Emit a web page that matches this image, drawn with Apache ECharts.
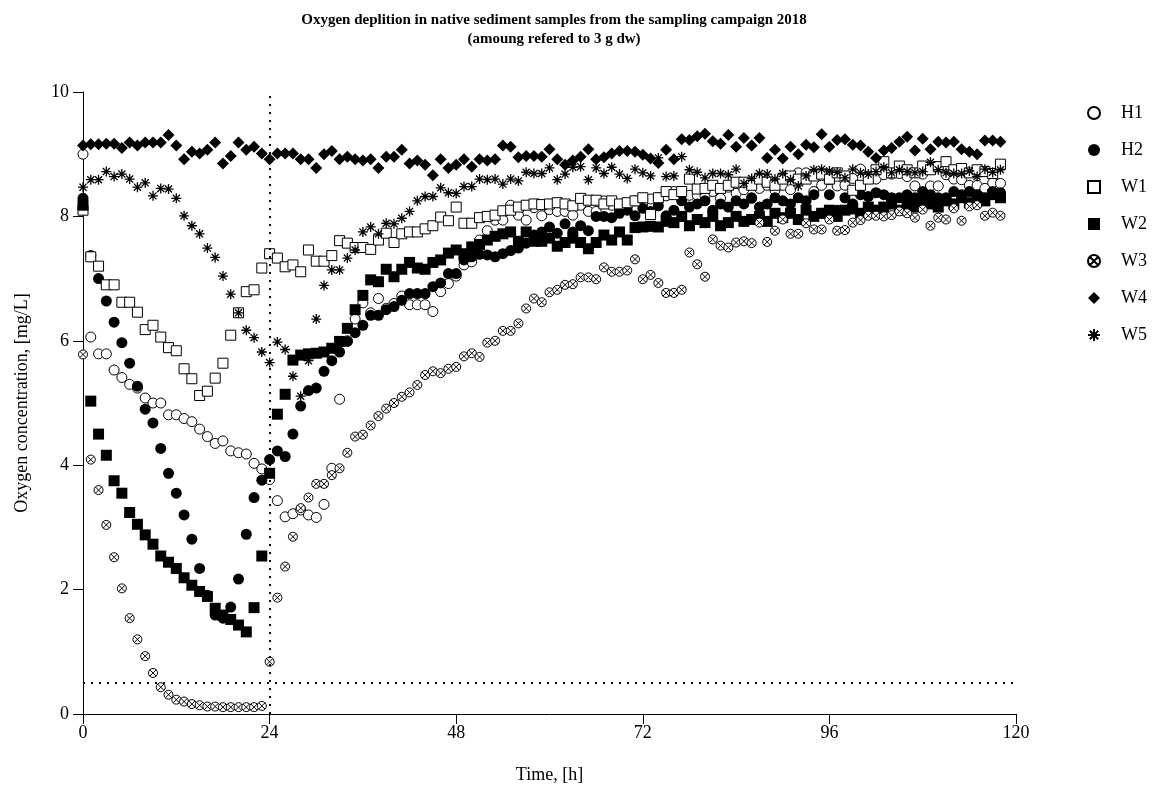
<!DOCTYPE html>
<html><head><meta charset="utf-8">
<script src="https://cdn.jsdelivr.net/npm/echarts@6/dist/echarts.min.js"></script>
<style>html,body{margin:0;padding:0;background:#fff}#c{width:1176px;height:787px}</style>
</head><body><div id="c"></div>
<script>
const hours = [0,1,2,3,4,5,6,7,8,9,10,11,12,13,14,15,16,17,18,19,20,21,22,23,24,25,26,27,28,29,30,31,32,33,34,35,36,37,38,39,40,41,42,43,44,45,46,47,48,49,50,51,52,53,54,55,56,57,58,59,60,61,62,63,64,65,66,67,68,69,70,71,72,73,74,75,76,77,78,79,80,81,82,83,84,85,86,87,88,89,90,91,92,93,94,95,96,97,98,99,100,101,102,103,104,105,106,107,108,109,110,111,112,113,114,115,116,117,118];

const H1 = [9.0,6.06,5.79,5.79,5.53,5.41,5.3,5.24,5.08,5.0,5.0,4.81,4.81,4.75,4.7,4.58,4.46,4.35,4.39,4.23,4.2,4.18,4.03,3.94,3.77,
3.43,3.17,3.22,3.28,3.2,3.16,3.37,3.95,5.06,6.0,6.35,6.61,6.45,6.68,6.52,6.6,6.72,6.58,6.58,6.58,6.47,6.79,6.92,7.04,7.22,7.27,7.62,7.77,7.94,7.94,8.18,8.02,7.94,8.14,8.01,8.11,8.08,8.08,8.02,8.18,8.08,8.08,8.25,8.18,8.08,8.21,8.25,8.21,8.28,8.3,8.33,
8.4,8.38,8.34,8.34,8.33,8.4,8.29,8.47,8.37,8.43,8.29,8.45,8.5,8.42,8.5,8.43,8.7,8.7,8.4,8.5,8.59,8.49,8.5,8.61,8.76,8.64,8.6,8.67,8.68,8.69,8.64,8.49,8.68,8.49,8.49,8.67,8.6,8.59,8.5,8.5,8.45,8.54,8.53];

const H2 = [8.29,7.37,7.0,6.64,6.3,5.97,5.64,5.27,4.9,4.68,4.27,3.87,3.55,3.2,2.81,2.34,1.91,1.59,1.54,1.72,2.17,2.89,3.48,3.76,4.09,
4.23,4.14,4.5,4.95,5.2,5.24,5.51,5.68,5.82,5.99,6.13,6.25,6.41,6.41,6.5,6.55,6.65,6.76,6.76,6.76,6.87,6.93,7.08,7.08,7.3,7.35,7.39,7.38,7.35,7.4,7.45,7.49,7.57,7.7,7.75,7.83,7.73,7.88,7.75,7.85,7.77,8.0,8.0,7.98,8.05,8.1,8.01,8.13,8.08,8.17,8.01,
8.1,8.25,8.15,8.2,8.25,8.1,8.2,8.15,8.25,8.2,8.3,8.15,8.2,8.3,8.25,8.2,8.3,8.25,8.35,8.05,8.35,8.1,8.3,8.2,8.35,8.32,8.38,8.35,8.3,8.3,8.35,8.3,8.4,8.35,8.3,8.3,8.4,8.35,8.4,8.35,8.3,8.4,8.38];

const W1 = [8.1,7.35,7.2,6.9,6.9,6.62,6.62,6.46,6.18,6.25,6.06,5.89,5.84,5.55,5.39,5.12,5.19,5.4,5.64,6.09,6.45,6.79,6.82,7.17,7.4,
7.33,7.19,7.22,7.11,7.46,7.28,7.28,7.37,7.61,7.57,7.5,7.5,7.47,7.62,7.73,7.58,7.72,7.75,7.75,7.8,7.85,7.99,7.93,8.15,7.89,7.89,7.98,8.0,8.02,8.09,8.1,8.15,8.18,8.2,8.19,8.2,8.22,8.2,8.17,8.29,8.26,8.26,8.2,8.25,8.2,8.22,8.25,8.3,8.03,8.3,8.4,
8.35,8.4,8.6,8.44,8.45,8.5,8.45,8.5,8.55,8.55,8.5,8.6,8.55,8.5,8.6,8.65,8.6,8.6,8.65,8.68,8.6,8.7,8.65,8.42,8.5,8.6,8.75,8.88,8.7,8.81,8.75,8.7,8.81,8.75,8.8,8.88,8.75,8.77,8.7,8.75,8.72,8.69,8.84];

const W2 = [8.18,5.03,4.5,4.16,3.75,3.55,3.24,3.05,2.88,2.73,2.54,2.44,2.34,2.19,2.07,1.97,1.89,1.7,1.59,1.52,1.43,1.32,1.71,2.54,3.87,
4.82,5.14,5.69,5.77,5.79,5.8,5.82,5.88,5.99,6.2,6.5,6.73,6.98,6.95,7.15,7.03,7.15,7.26,7.17,7.15,7.26,7.3,7.41,7.46,7.4,7.51,7.55,7.62,7.68,7.72,7.75,7.6,7.75,7.6,7.6,7.65,7.52,7.58,7.65,7.58,7.48,7.58,7.7,7.62,7.75,7.62,7.82,7.83,7.84,7.83,7.92,
7.9,8.0,7.85,7.95,7.9,8.0,7.85,7.9,8.0,7.92,7.95,8.0,7.92,8.05,7.98,8.05,7.95,8.1,8.0,8.05,8.1,8.0,8.1,8.12,8.05,8.15,8.1,8.15,8.2,8.1,8.2,8.15,8.25,8.2,8.15,8.25,8.2,8.3,8.22,8.3,8.25,8.35,8.3];

const W3 = [5.78,4.09,3.6,3.04,2.52,2.02,1.54,1.2,0.93,0.66,0.43,0.31,0.23,0.2,0.16,0.14,0.12,0.12,0.11,0.11,0.11,0.11,0.11,0.13,0.84,
1.87,2.37,2.85,3.31,3.48,3.7,3.7,3.84,3.95,4.2,4.46,4.49,4.64,4.79,4.91,5.0,5.1,5.17,5.29,5.45,5.51,5.48,5.55,5.58,5.75,5.8,5.74,5.97,6.0,6.16,6.16,6.28,6.52,6.68,6.62,6.78,6.82,6.9,6.91,7.02,7.02,6.99,7.18,7.11,7.11,7.13,7.31,6.99,7.06,6.93,6.77,
6.77,6.82,7.42,7.23,7.03,7.63,7.53,7.5,7.58,7.6,7.57,7.9,7.59,7.77,7.95,7.72,7.72,7.89,7.79,7.79,7.95,7.77,7.78,7.9,7.94,8.01,8.01,8.0,8.02,8.08,8.05,7.98,8.11,7.85,7.98,7.95,8.13,7.93,8.16,8.18,8.01,8.06,8.01];

const W4 = [9.14,9.16,9.16,9.17,9.17,9.10,9.19,9.14,9.19,9.19,9.19,9.31,9.14,8.92,9.04,9.01,9.07,9.19,8.85,8.97,9.19,9.07,9.12,9.01,8.92,
9.01,9.01,9.01,8.92,8.92,8.78,9.0,9.05,8.92,8.96,8.92,8.9,8.92,8.78,8.96,8.96,9.07,8.85,8.9,8.83,8.66,8.92,8.78,8.83,8.92,8.8,8.92,8.9,8.92,9.14,9.12,8.95,8.97,8.97,8.96,9.08,8.92,8.83,8.9,8.96,9.08,8.92,8.95,9.01,9.05,9.05,9.04,8.99,8.93,8.86,9.07,
8.92,9.24,9.23,9.29,9.33,9.21,9.17,9.31,9.12,9.26,9.14,9.26,8.94,9.07,8.93,9.12,9.0,9.15,9.11,9.32,9.12,9.23,9.24,9.15,9.14,9.04,8.94,9.06,9.1,9.2,9.28,9.06,9.25,9.08,9.2,9.19,9.2,9.08,9.04,9.0,9.22,9.22,9.2];

const W5 = [8.47,8.59,8.59,8.72,8.64,8.68,8.6,8.47,8.54,8.33,8.45,8.44,8.29,8.01,7.85,7.72,7.49,7.34,7.04,6.75,6.45,6.17,6.05,5.82,5.65,
5.98,5.86,5.43,5.11,5.68,6.35,6.89,7.14,7.14,7.33,7.46,7.75,7.83,7.72,7.89,7.88,7.97,8.08,8.25,8.32,8.32,8.46,8.38,8.37,8.48,8.48,8.6,8.59,8.6,8.52,8.6,8.57,8.71,8.69,8.69,8.78,8.59,8.68,8.79,8.8,8.59,8.78,8.69,8.79,8.68,8.61,8.76,8.7,8.65,8.94,8.64,
8.65,8.96,8.75,8.71,8.62,8.69,8.69,8.67,8.76,8.53,8.61,8.69,8.68,8.6,8.69,8.59,8.49,8.65,8.75,8.76,8.73,8.71,8.62,8.76,8.7,8.68,8.72,8.79,8.7,8.75,8.72,8.7,8.72,8.87,8.75,8.7,8.69,8.69,8.73,8.64,8.76,8.71,8.75];

const xTicks = [0, 24, 48, 72, 96, 120];
const yTicks = [0, 2, 4, 6, 8, 10];
const reaerationTime = 24;   // vertical dotted line
const oxygenLimit = 0.5;     // horizontal dotted line

const seriesNames = ['H1','H2','W1','W2','W3','W4','W5'];
const seriesData = [H1, H2, W1, W2, W3, W4, W5];

const SERIF = '"Liberation Serif", "Times New Roman", serif';
const OTIMES = 'path://M0,-10A10,10 0 1,1 0,10A10,10 0 1,1 0,-10Z M-7.07,-7.07L7.07,7.07 M7.07,-7.07L-7.07,7.07';
const STAR = 'path://M0,-10L0,10 M-10,0L10,0 M-7.07,-7.07L7.07,7.07 M7.07,-7.07L-7.07,7.07';

const styles = {
  H1: {symbol: 'circle', symbolSize: 10, itemStyle: {color: '#fff', borderColor: '#000', borderWidth: 1, opacity: 1}},
  H2: {symbol: 'circle', symbolSize: 11, itemStyle: {color: '#000', borderColor: '#000', borderWidth: 0, opacity: 1}},
  W1: {symbol: 'rect', symbolSize: 10, itemStyle: {color: '#fff', borderColor: '#000', borderWidth: 1, opacity: 1}},
  W2: {symbol: 'rect', symbolSize: 11, itemStyle: {color: '#000', borderColor: '#000', borderWidth: 0, opacity: 1}},
  W3: {symbol: OTIMES, symbolSize: 9, itemStyle: {color: '#fff', borderColor: '#000', borderWidth: 1, opacity: 1}},
  W4: {symbol: 'diamond', symbolSize: 12, itemStyle: {color: '#000', borderColor: '#000', borderWidth: 0, opacity: 1}},
  W5: {symbol: STAR, symbolSize: 10, itemStyle: {color: 'rgba(0,0,0,0)', borderColor: '#000', borderWidth: 1.3, opacity: 1}}
};

const series = seriesNames.map((name, i) => Object.assign({
  name: name,
  type: 'scatter',
  data: hours.map((h, k) => [h, seriesData[i][k]]),
  z: 3
}, styles[name]));

series.push({
  name: 'refs',
  type: 'scatter',
  data: [],
  silent: true,
  markLine: {
    silent: true,
    symbol: ['none', 'none'],
    label: {show: false},
    lineStyle: {color: '#000', width: 2, type: [2, 6], opacity: 1},
    data: [
      [{coord: [reaerationTime, 0]}, {coord: [reaerationTime, 10]}],
      [{coord: [0, oxygenLimit]}, {coord: [120, oxygenLimit]}]
    ]
  }
});

const chart = echarts.init(document.getElementById('c'), null, {renderer: 'canvas'});
chart.setOption({
  animation: false,
  backgroundColor: '#fff',
  title: {
    text: 'Oxygen deplition in native sediment samples from the sampling campaign 2018\n(amoung refered to 3 g dw)',
    left: 549, top: 6, textAlign: 'center',
    textStyle: {fontFamily: SERIF, fontWeight: 'bold', fontSize: 15, lineHeight: 19, color: '#000'}
  },
  legend: {
    data: seriesNames,
    orient: 'vertical',
    left: 1082, top: 99,
    itemWidth: 12, itemHeight: 12, itemGap: 19,
    textStyle: {fontFamily: SERIF, fontSize: 18, color: '#000', padding: [0, 0, 0, 16], lineHeight: 18}
  },
  grid: {left: 83, right: 160, top: 92, bottom: 73, containLabel: false, outerBoundsMode: 'none'},
  xAxis: {
    type: 'value', min: 0, max: 120, interval: 24,
    name: 'Time, [h]', nameLocation: 'middle', nameGap: 52,
    nameTextStyle: {fontFamily: SERIF, fontSize: 18, color: '#000'},
    axisLine: {show: true, lineStyle: {color: '#000', width: 1}},
    axisTick: {show: true, length: 10, lineStyle: {color: '#000'}},
    axisLabel: {fontFamily: SERIF, fontSize: 18, color: '#000', margin: 10},
    splitLine: {show: false}
  },
  yAxis: {
    type: 'value', min: 0, max: 10, interval: 2,
    name: 'Oxygen concentration, [mg/L]', nameLocation: 'middle', nameGap: 52,
    nameTextStyle: {fontFamily: SERIF, fontSize: 18, color: '#000'},
    axisLine: {show: true, lineStyle: {color: '#000', width: 1}},
    axisTick: {show: true, length: 10, lineStyle: {color: '#000'}},
    axisLabel: {fontFamily: SERIF, fontSize: 18, color: '#000', margin: 14},
    splitLine: {show: false}
  },
  tooltip: {show: false},
  series: series
});
</script>
</body></html>
